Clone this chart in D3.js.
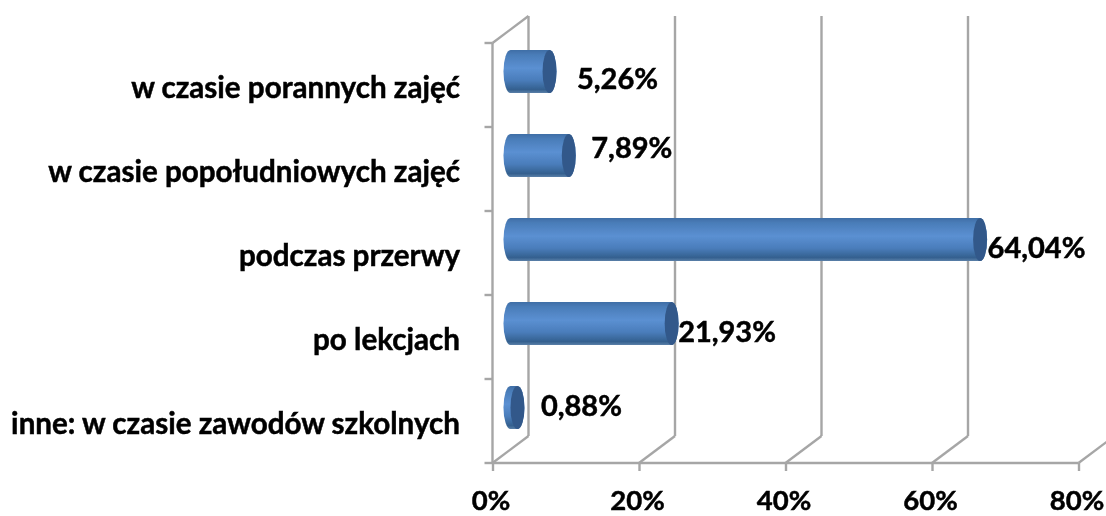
<!DOCTYPE html>
<html>
<head>
<meta charset="utf-8">
<script src="https://cdn.jsdelivr.net/npm/d3@7"></script>
<style>
  body { margin: 0; background: #fff; }
  text { font-family: Lato, "Open Sans", sans-serif; font-weight: 700; fill: #000; stroke: #000; stroke-width: 0.5px; }
  svg { filter: blur(0.4px); }
</style>
</head>
<body>
<script>
// chart values, top to bottom
var categories = ["w czasie porannych zajęć", "w czasie popołudniowych zajęć", "podczas przerwy", "po lekcjach", "inne: w czasie zawodów szkolnych"];
var values = [5.26, 7.89, 64.04, 21.93, 0.88];
var valueLabels = ["5,26%", "7,89%", "64,04%", "21,93%", "0,88%"];
var xTicks = [0, 20, 40, 60, 80];

// hand placed data labels, relative to the end of each bar
var labelDx = [21, 16, 1, 0, 17];
var labelDy = [8, -7, 9, 9, -1];

var width = 1106, height = 516;
var left = 492.5, right = 1078.5, top_ = 43, bottom = 463;
var depthX = 36, depthY = -27;   // 3d offset of the back wall
var barH = 43, capRx = 7;

var svg = d3.select("body").append("svg")
    .attr("width", width)
    .attr("height", height)
    .style("display", "block");

var x = d3.scaleLinear().domain([0, 80]).range([left, right]);
var y = d3.scaleBand().domain(categories).range([top_, bottom]);

var defs = svg.append("defs");
var grad = defs.append("linearGradient")
    .attr("id", "tube").attr("x1", 0).attr("y1", 0).attr("x2", 0).attr("y2", 1);
grad.selectAll("stop")
    .data([[0, "#3f6ea6"], [0.12, "#4a7db9"], [0.42, "#5b90d2"], [0.7, "#4a7dbb"], [0.92, "#34608f"], [1, "#5a7fa8"]])
    .enter().append("stop")
    .attr("offset", d => d[0])
    .attr("stop-color", d => d[1]);
defs.append("filter").attr("id", "soft")
    .append("feGaussianBlur").attr("stdDeviation", 0.6);

var grid = svg.append("g")
    .attr("fill", "none")
    .attr("stroke", "#a6a6a6")
    .attr("stroke-width", 2.4);

// back wall verticals
grid.selectAll(".back")
    .data(xTicks)
    .enter().append("line")
    .attr("x1", d => x(d) + depthX).attr("x2", d => x(d) + depthX)
    .attr("y1", top_ + depthY).attr("y2", bottom + depthY);

// floor diagonals
grid.selectAll(".floor")
    .data(xTicks)
    .enter().append("line")
    .attr("x1", d => x(d)).attr("x2", d => x(d) + depthX)
    .attr("y1", bottom).attr("y2", bottom + depthY);

// left wall top edge
grid.append("line")
    .attr("x1", left).attr("x2", left + depthX)
    .attr("y1", top_).attr("y2", top_ + depthY);

// axes
var xAxis = svg.append("g")
    .attr("transform", "translate(0," + bottom + ")")
    .call(d3.axisBottom(x).tickValues(xTicks).tickSize(8).tickFormat(d => d + "%"));
xAxis.selectAll("line").attr("stroke", "#a6a6a6").attr("stroke-width", 2.4);
xAxis.select(".domain").attr("stroke", "#a6a6a6").attr("stroke-width", 2.4).attr("d", "M" + left + ",0H" + right);
xAxis.selectAll("text")
    .attr("x", -2)
    .attr("y", 47)
    .attr("dy", 0)
    .style("font-size", "27.5px")
    .style("font-family", "Lato, sans-serif")
    .style("font-weight", 700)
    .attr("fill", "#000");

var yAxis = svg.append("g")
    .attr("transform", "translate(" + left + ",0)");
yAxis.append("line")
    .attr("y1", top_).attr("y2", bottom)
    .attr("stroke", "#a6a6a6").attr("stroke-width", 2.4);
yAxis.selectAll(".tick")
    .data(d3.range(categories.length + 1))
    .enter().append("line")
    .attr("x1", -8).attr("x2", 0)
    .attr("y1", d => top_ + d * y.step()).attr("y2", d => top_ + d * y.step())
    .attr("stroke", "#a6a6a6").attr("stroke-width", 2.4);

// category labels
svg.selectAll(".cat")
    .data(categories)
    .enter().append("text")
    .attr("x", 460)
    .attr("y", d => y(d) + y.bandwidth() / 2 + 13)
    .attr("text-anchor", "end")
    .style("font-size", "29.6px")
    .text(d => d);

// bars
var bars = svg.selectAll(".bar")
    .data(values)
    .enter().append("g")
    .attr("filter", "url(#soft)")
    .attr("transform", (d, i) => "translate(0," + (y(categories[i]) + y.bandwidth() / 2 + depthY / 2) + ")");

var x0 = x(0) + depthX / 2;

bars.append("path")
    .attr("fill", "url(#tube)")
    .attr("d", d => {
        var xe = x(d) + depthX / 2 + 0.5, r = barH / 2;
        return "M" + x0 + "," + (-r) + "L" + xe + "," + (-r) +
            "A" + capRx + "," + r + " 0 0 1 " + xe + "," + r +
            "L" + x0 + "," + r +
            "A" + capRx + "," + r + " 0 0 1 " + x0 + "," + (-r) + "Z";
    });

bars.append("ellipse")
    .attr("cx", d => x(d) + depthX / 2 + 0.5)
    .attr("cy", 0)
    .attr("rx", capRx)
    .attr("ry", barH / 2)
    .attr("fill", "#33598a");

// value labels
svg.selectAll(".val")
    .data(values)
    .enter().append("text")
    .attr("x", (d, i) => x(d) + depthX / 2 + capRx + labelDx[i])
    .attr("y", (d, i) => y(categories[i]) + y.bandwidth() / 2 + depthY / 2 + labelDy[i] + 9.5)
    .style("font-size", "29px")
    .text((d, i) => valueLabels[i]);
</script>
</body>
</html>
